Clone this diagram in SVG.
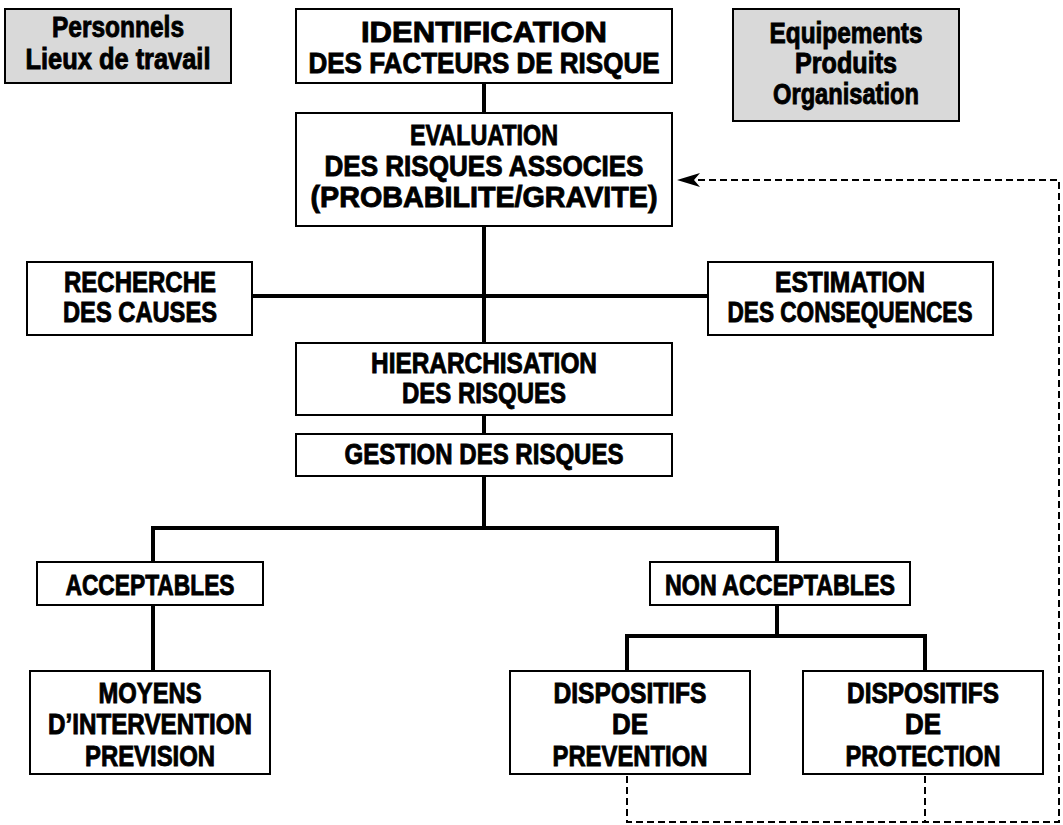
<svg xmlns="http://www.w3.org/2000/svg" width="1063" height="825" viewBox="0 0 1063 825">
<style>
.box{fill:#fff;stroke:#000;stroke-width:2}
.gray{fill:#d9d9d9;stroke:#000;stroke-width:2}
text{font-family:"Liberation Sans",Arial,sans-serif;font-weight:bold;font-size:29px;fill:#000;stroke:#000;stroke-width:0.9;text-anchor:middle}
.c{fill:none;stroke:#000;stroke-width:4;stroke-linecap:square}
.d{fill:none;stroke:#000;stroke-width:2;stroke-dasharray:7,4}
</style>
<rect width="1063" height="825" fill="#fff"/>
<g id="connectors">
<path class="c" d="M484 83V113M484 226V344M484 413V435M484 476V528M252 296H708M153 528H777M153 528V562M153 605V671M777 528V562M777 605V636M627 636H925M627 636V671M925 636V671"/>
<path class="d" d="M627 776V822H1059V180H695M925 776V822"/>
<polygon points="677,180 700,173 694,180 700,187" fill="#000"/>
</g>
<g id="personnels"><rect class="gray" x="5" y="9" width="226" height="74"/>
<text x="118" y="37" textLength="132" lengthAdjust="spacingAndGlyphs">Personnels</text>
<text x="118" y="69" textLength="185" lengthAdjust="spacingAndGlyphs">Lieux de travail</text></g>
<g id="identification"><rect class="box" x="296" y="9" width="376" height="74"/>
<text x="484" y="42" textLength="246" lengthAdjust="spacingAndGlyphs">IDENTIFICATION</text>
<text x="484" y="73" textLength="351" lengthAdjust="spacingAndGlyphs">DES FACTEURS DE RISQUE</text></g>
<g id="equipements"><rect class="gray" x="733" y="9" width="226" height="112"/>
<text x="846" y="43" textLength="153" lengthAdjust="spacingAndGlyphs">Equipements</text>
<text x="846" y="73" textLength="102" lengthAdjust="spacingAndGlyphs">Produits</text>
<text x="846" y="104" textLength="146" lengthAdjust="spacingAndGlyphs">Organisation</text></g>
<g id="evaluation"><rect class="box" x="296" y="113" width="376" height="113"/>
<text x="484" y="145" textLength="148" lengthAdjust="spacingAndGlyphs">EVALUATION</text>
<text x="484" y="176" textLength="319" lengthAdjust="spacingAndGlyphs">DES RISQUES ASSOCIES</text>
<text x="484" y="207" textLength="347" lengthAdjust="spacingAndGlyphs">(PROBABILITE/GRAVITE)</text></g>
<g id="recherche"><rect class="box" x="27" y="262" width="225" height="73"/>
<text x="140" y="292" textLength="152" lengthAdjust="spacingAndGlyphs">RECHERCHE</text>
<text x="140" y="322" textLength="154" lengthAdjust="spacingAndGlyphs">DES CAUSES</text></g>
<g id="estimation"><rect class="box" x="708" y="262" width="285" height="73"/>
<text x="850" y="292" textLength="150" lengthAdjust="spacingAndGlyphs">ESTIMATION</text>
<text x="850" y="322" textLength="245" lengthAdjust="spacingAndGlyphs">DES CONSEQUENCES</text></g>
<g id="hierarchisation"><rect class="box" x="296" y="343" width="376" height="72"/>
<text x="484" y="373" textLength="226" lengthAdjust="spacingAndGlyphs">HIERARCHISATION</text>
<text x="484" y="403" textLength="164" lengthAdjust="spacingAndGlyphs">DES RISQUES</text></g>
<g id="gestion"><rect class="box" x="296" y="434" width="376" height="42"/>
<text x="484" y="464" textLength="279" lengthAdjust="spacingAndGlyphs">GESTION DES RISQUES</text></g>
<g id="acceptables"><rect class="box" x="37" y="562" width="226" height="43"/>
<text x="150" y="595" textLength="169" lengthAdjust="spacingAndGlyphs">ACCEPTABLES</text></g>
<g id="non-acceptables"><rect class="box" x="650" y="562" width="260" height="43"/>
<text x="780" y="595" textLength="230" lengthAdjust="spacingAndGlyphs">NON ACCEPTABLES</text></g>
<g id="moyens"><rect class="box" x="30" y="671" width="240" height="103"/>
<text x="150" y="703" textLength="103" lengthAdjust="spacingAndGlyphs">MOYENS</text>
<text x="150" y="734" textLength="204" lengthAdjust="spacingAndGlyphs">D’INTERVENTION</text>
<text x="150" y="766" textLength="130" lengthAdjust="spacingAndGlyphs">PREVISION</text></g>
<g id="prevention"><rect class="box" x="510" y="671" width="240" height="103"/>
<text x="630" y="703" textLength="153" lengthAdjust="spacingAndGlyphs">DISPOSITIFS</text>
<text x="630" y="734" textLength="36" lengthAdjust="spacingAndGlyphs">DE</text>
<text x="630" y="766" textLength="155" lengthAdjust="spacingAndGlyphs">PREVENTION</text></g>
<g id="protection"><rect class="box" x="803" y="671" width="240" height="103"/>
<text x="923" y="703" textLength="152" lengthAdjust="spacingAndGlyphs">DISPOSITIFS</text>
<text x="923" y="734" textLength="36" lengthAdjust="spacingAndGlyphs">DE</text>
<text x="923" y="766" textLength="155" lengthAdjust="spacingAndGlyphs">PROTECTION</text></g>
</svg>
